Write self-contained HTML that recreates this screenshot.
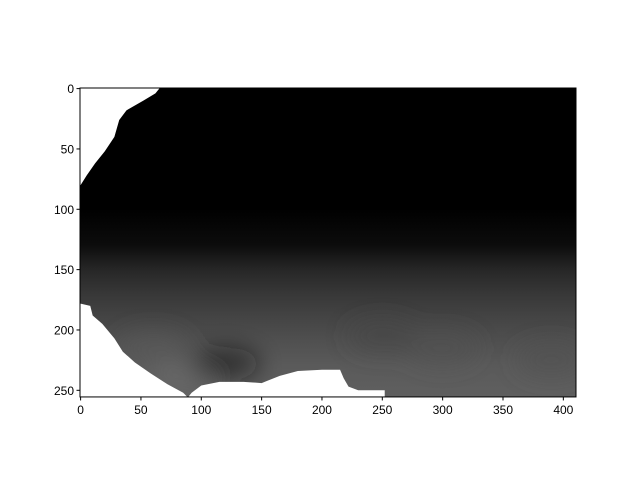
<!DOCTYPE html>
<html><head><meta charset="utf-8"><style>
body{margin:0;background:#fff}
svg{display:block;font-family:"Liberation Sans","DejaVu Sans",sans-serif}
</style></head><body>
<svg id="chart" width="640" height="480" viewBox="0 0 640 480" xmlns="http://www.w3.org/2000/svg">
<defs>
<linearGradient id="rowGrad" x1="0" y1="0" x2="0" y2="1"></linearGradient>
<filter id="blur" x="-50%" y="-50%" width="200%" height="200%"><feGaussianBlur stdDeviation="12"/></filter>
<clipPath id="axClip"><rect x="80" y="88" width="496" height="309"/></clipPath>
</defs>
<g id="plot" clip-path="url(#axClip)"></g>
<g id="axes"></g>
</svg>
<script>
const rowY = [0, 100, 130, 150, 170, 190, 210, 230, 256];
const rowVal = [0, 0, 12, 38, 55, 68, 80, 90, 95];
const patchX = [60, 85, 120, 300, 390, 250];
const patchY = [215, 240, 228, 215, 225, 205];
const patchVal = [90, 110, 20, 80, 80, 70];
const maskLeftTop = [[-1,-1],[66,-1],[62,4],[52,10],[38,18],[32,26],[28,40],[20,52],[12,62],[5,72],[0,80],[-1,80]];
const maskBottomLeft = [[-1,178],[8,180],[10,188],[18,195],[28,207],[35,218],[45,227],[58,236],[72,245],[85,252],[90,257],[-1,257]];
const maskBottom = [[88,257],[92,252],[100,246],[115,243],[135,243],[150,244],[165,238],[180,234],[200,233],[215,233],[218,240],[222,247],[230,250],[245,250],[252,250],[252,257]];
const xTicks = [0, 50, 100, 150, 200, 250, 300, 350, 400];
const yTicks = [0, 50, 100, 150, 200, 250];
const W = 411, H = 256;
const X0 = 80, Y0 = 88, S = 496 / W;
const sx = v => X0 + (v + 0.5) * S;
const sy = v => Y0 + (v + 0.5) * S;
const NS = 'http://www.w3.org/2000/svg';
function mk(tag, attrs, parent){const e=document.createElementNS(NS,tag);for(const k in attrs)e.setAttribute(k,attrs[k]);parent.appendChild(e);return e;}
const grad = document.getElementById('rowGrad');
rowY.forEach((y,i)=>{const g=rowVal[i];mk('stop',{offset:(y/H),'stop-color':`rgb(${g},${g},${g})`},grad);});
const plot = document.getElementById('plot');
const bg = mk('rect',{x:X0,y:Y0,width:W*S,height:H*S,fill:'url(#rowGrad)'},plot);


const pg = mk('g',{filter:'url(#blur)'},plot);
patchX.forEach((px,i)=>{const g=patchVal[i];
 const c=mk('ellipse',{cx:sx(px),cy:sy(patchY[i]),rx:35,ry:16,fill:`rgb(${g},${g},${g})`,opacity:0.6},pg);
 
 });
[maskLeftTop,maskBottomLeft,maskBottom].forEach(m=>{
 const p=mk('polygon',{points:m.map(q=>sx(q[0])+','+sy(q[1])).join(' '),fill:'#fff'},plot);
 
 });
const ax = document.getElementById('axes');
const frame = mk('rect',{x:X0,y:Y0,width:W*S,height:H*S,fill:'none',stroke:'#000','stroke-width':1},ax);


const yb = Y0+H*S;
xTicks.forEach(t=>{const x=sx(t);
 mk('line',{x1:x,y1:yb,x2:x,y2:yb+3.5,stroke:'#000'},ax);
 const tx=mk('text',{x:x,y:yb+17,'font-size':12,'text-anchor':'middle'},ax);tx.textContent=t;
 
 });
yTicks.forEach(t=>{const y=sy(t);
 mk('line',{x1:X0,y1:y,x2:X0-3.5,y2:y,stroke:'#000'},ax);
 const tx=mk('text',{x:X0-6,y:y+4.5,'font-size':12,'text-anchor':'end'},ax);tx.textContent=t;
 
 });
</script>
</body></html>
